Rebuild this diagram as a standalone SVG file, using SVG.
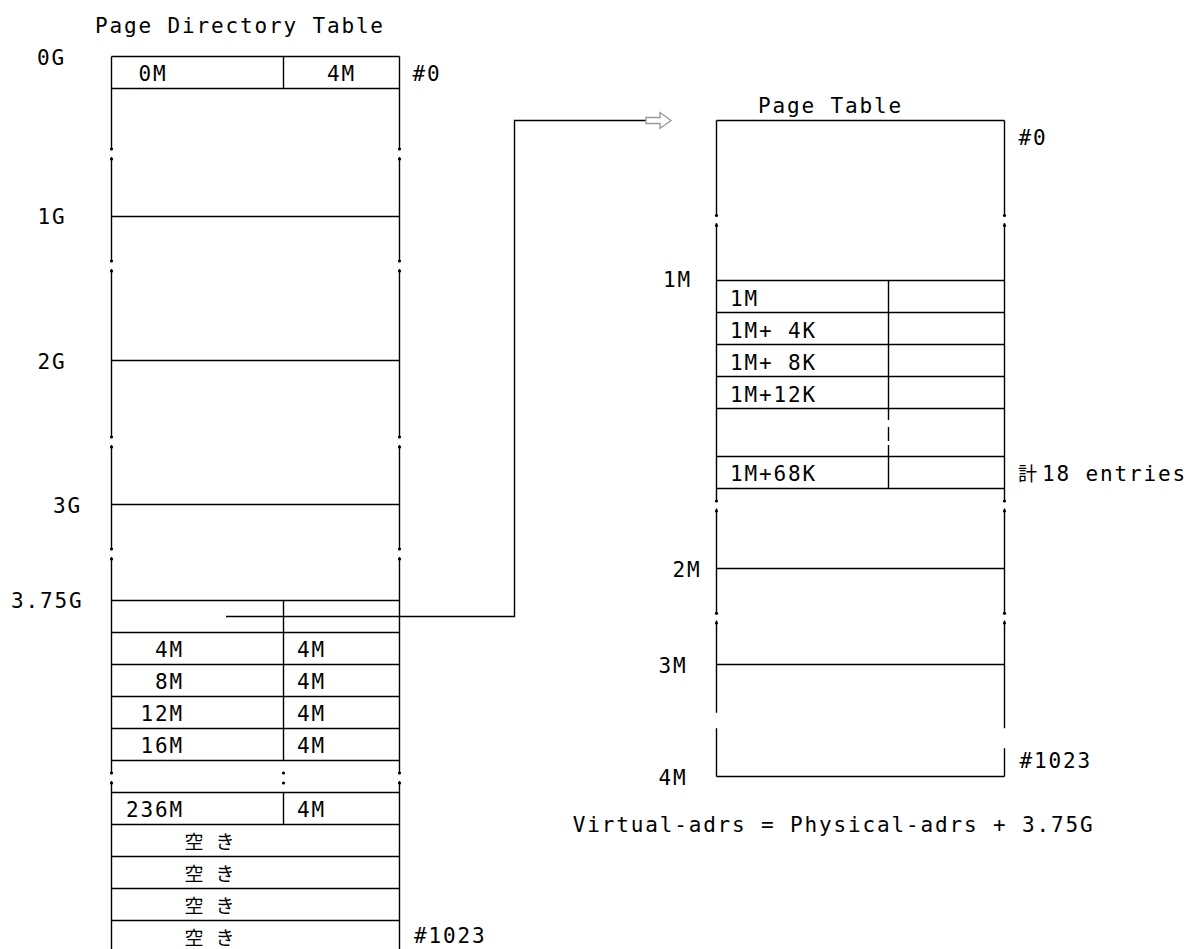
<svg xmlns="http://www.w3.org/2000/svg" width="1194" height="949" viewBox="0 0 1194 949">
  <style>
    .ln { stroke: #000; stroke-width: 1.4; fill: none; }
    .dot { fill: #000; }
    .t { font-family: "DejaVu Sans Mono", "Liberation Mono", monospace; font-size: 21px; letter-spacing: 1.85px; fill: #000; }
    .j { font-family: "Noto Sans CJK JP", "Noto Sans CJK SC", sans-serif; font-size: 19px; fill: #000; }
    .ja { letter-spacing: 12px; }
  </style>
  <defs>
    <!-- hollow block arrow at the end of the link -->
    <marker id="hollow-arrow" markerUnits="userSpaceOnUse" viewBox="-1 -10 28 20" refX="0" refY="0" markerWidth="28" markerHeight="20" orient="auto" overflow="visible">
      <path d="M0,-3 H14 V-8 L25,0 L14,8 V3 H0 Z" fill="#fff" stroke="#9a9a9a" stroke-width="1.4" stroke-linejoin="miter"/>
    </marker>
  </defs>

  <rect width="1194" height="949" fill="#fff"/>

  <!-- Page Directory Table (left) -->
  <g id="page-directory-table">
    <text class="t" x="95" y="33">Page Directory Table</text>
    <!-- outer verticals with break marks -->
    <path class="ln" d="M111.5,56.5 V149 M111.5,157 V261 M111.5,269 V437 M111.5,445 V549 M111.5,557 V773 M111.5,781 V949"/>
    <path class="ln" d="M399.5,56.5 V149 M399.5,157 V261 M399.5,269 V437 M399.5,445 V549 M399.5,557 V773 M399.5,781 V949"/>
    <!-- row separators -->
    <path class="ln" d="M111.5,56.5 H399.5 M111.5,88.5 H399.5 M111.5,216.5 H399.5 M111.5,360.5 H399.5 M111.5,504.5 H399.5
      M111.5,600.5 H399.5 M111.5,632.5 H399.5 M111.5,664.5 H399.5 M111.5,696.5 H399.5 M111.5,728.5 H399.5 M111.5,760.5 H399.5
      M111.5,792.5 H399.5 M111.5,824.5 H399.5 M111.5,856.5 H399.5 M111.5,888.5 H399.5 M111.5,920.5 H399.5"/>
    <!-- column divider -->
    <path class="ln" d="M283.5,56.5 V88.5 M283.5,600.5 V760.5 M283.5,792.5 V824.5"/>
    <!-- break dots -->
    <g class="dot">
      <circle cx="111.5" cy="149" r="1.6"/><circle cx="111.5" cy="159" r="1.6"/>
      <circle cx="399.5" cy="149" r="1.6"/><circle cx="399.5" cy="159" r="1.6"/>
      <circle cx="111.5" cy="261" r="1.6"/><circle cx="111.5" cy="271" r="1.6"/>
      <circle cx="399.5" cy="261" r="1.6"/><circle cx="399.5" cy="271" r="1.6"/>
      <circle cx="111.5" cy="437" r="1.6"/><circle cx="111.5" cy="447" r="1.6"/>
      <circle cx="399.5" cy="437" r="1.6"/><circle cx="399.5" cy="447" r="1.6"/>
      <circle cx="111.5" cy="549" r="1.6"/><circle cx="111.5" cy="559" r="1.6"/>
      <circle cx="399.5" cy="549" r="1.6"/><circle cx="399.5" cy="559" r="1.6"/>
      <circle cx="111.5" cy="773" r="1.6"/><circle cx="111.5" cy="783" r="1.6"/>
      <circle cx="283.5" cy="773" r="1.6"/><circle cx="283.5" cy="783" r="1.6"/>
      <circle cx="399.5" cy="773" r="1.6"/><circle cx="399.5" cy="783" r="1.6"/>
    </g>
    <!-- entries -->
    <text class="t" x="138.6" y="81">0M</text>
    <text class="t" x="327" y="81">4M</text>
    <text class="t" x="412.5" y="81">#0</text>
    <text class="t" x="155" y="657">4M</text>
    <text class="t" x="297" y="657">4M</text>
    <text class="t" x="155" y="689">8M</text>
    <text class="t" x="297" y="689">4M</text>
    <text class="t" x="140.5" y="721">12M</text>
    <text class="t" x="297" y="721">4M</text>
    <text class="t" x="140.5" y="753">16M</text>
    <text class="t" x="297" y="753">4M</text>
    <text class="t" x="126" y="817">236M</text>
    <text class="t" x="297" y="817">4M</text>
    <text class="j ja" x="184.5" y="848.7">空き</text>
    <text class="j ja" x="184.5" y="880.7">空き</text>
    <text class="j ja" x="184.5" y="912.7">空き</text>
    <text class="j ja" x="184.5" y="944.7">空き</text>
    <text class="t" x="414" y="943">#1023</text>
  </g>

  <!-- address labels left of the directory -->
  <g id="directory-addresses">
    <text class="t" x="37" y="65">0G</text>
    <text class="t" x="37.5" y="224">1G</text>
    <text class="t" x="37.5" y="369">2G</text>
    <text class="t" x="53" y="512.7">3G</text>
    <text class="t" x="11" y="608.3">3.75G</text>
  </g>

  <!-- Page Table (right) -->
  <g id="page-table">
    <text class="t" x="758" y="112.5">Page Table</text>
    <path class="ln" d="M716.5,120.5 H1004.5"/>
    <path class="ln" d="M716.5,120.5 V215.5 M716.5,223 V501 M716.5,508.5 V613.3 M716.5,620.5 V712.7 M716.5,728.3 V776.5"/>
    <path class="ln" d="M1004.5,120.5 V215.5 M1004.5,223 V501 M1004.5,508.5 V613.3 M1004.5,620.5 V728.3 M1004.5,748.3 V776.5"/>
    <path class="ln" d="M716.5,280.5 H1004.5 M716.5,312.5 H1004.5 M716.5,344.5 H1004.5 M716.5,376.5 H1004.5 M716.5,408.5 H1004.5
      M716.5,456.5 H1004.5 M716.5,488.5 H1004.5 M716.5,568.5 H1004.5 M716.5,664.5 H1004.5 M716.5,776.5 H1004.5"/>
    <path class="ln" d="M888.5,280.5 V408.5 M888.5,408.5 V420 M888.5,427 V441 M888.5,445 V456.5 M888.5,456.5 V488.5"/>
    <g class="dot">
      <circle cx="716.5" cy="215.5" r="1.6"/><circle cx="716.5" cy="225.5" r="1.6"/>
      <circle cx="1004.5" cy="215.5" r="1.6"/><circle cx="1004.5" cy="225.5" r="1.6"/>
      <circle cx="716.5" cy="501" r="1.6"/><circle cx="716.5" cy="511" r="1.6"/>
      <circle cx="1004.5" cy="501" r="1.6"/><circle cx="1004.5" cy="511" r="1.6"/>
      <circle cx="716.5" cy="613.3" r="1.6"/><circle cx="716.5" cy="623" r="1.6"/>
      <circle cx="1004.5" cy="613.3" r="1.6"/><circle cx="1004.5" cy="623" r="1.6"/>
    </g>
    <text class="t" x="1018.5" y="145">#0</text>
    <text class="t" x="730" y="305.5">1M</text>
    <text class="t" x="730" y="337.5">1M+ 4K</text>
    <text class="t" x="730" y="369.5">1M+ 8K</text>
    <text class="t" x="730" y="401.5">1M+12K</text>
    <text class="t" x="730" y="481">1M+68K</text>
    <text x="1018" y="481"><tspan class="j">計</tspan><tspan class="t" x="1042">18 entries</tspan></text>
    <text class="t" x="1019.5" y="768.3">#1023</text>
  </g>

  <!-- address labels left of the page table -->
  <g id="table-addresses">
    <text class="t" x="663" y="287">1M</text>
    <text class="t" x="672.5" y="576.7">2M</text>
    <text class="t" x="658.5" y="673.3">3M</text>
    <text class="t" x="658.5" y="785">4M</text>
  </g>

  <!-- link from the 3.75G directory entry to the page table -->
  <g id="connectors">
    <path class="ln" d="M226,616.5 H514.5 V120.5 H646" marker-end="url(#hollow-arrow)"/>
  </g>

  <g id="formula">
    <text class="t" x="572.7" y="832">Virtual-adrs = Physical-adrs + 3.75G</text>
  </g>
</svg>
